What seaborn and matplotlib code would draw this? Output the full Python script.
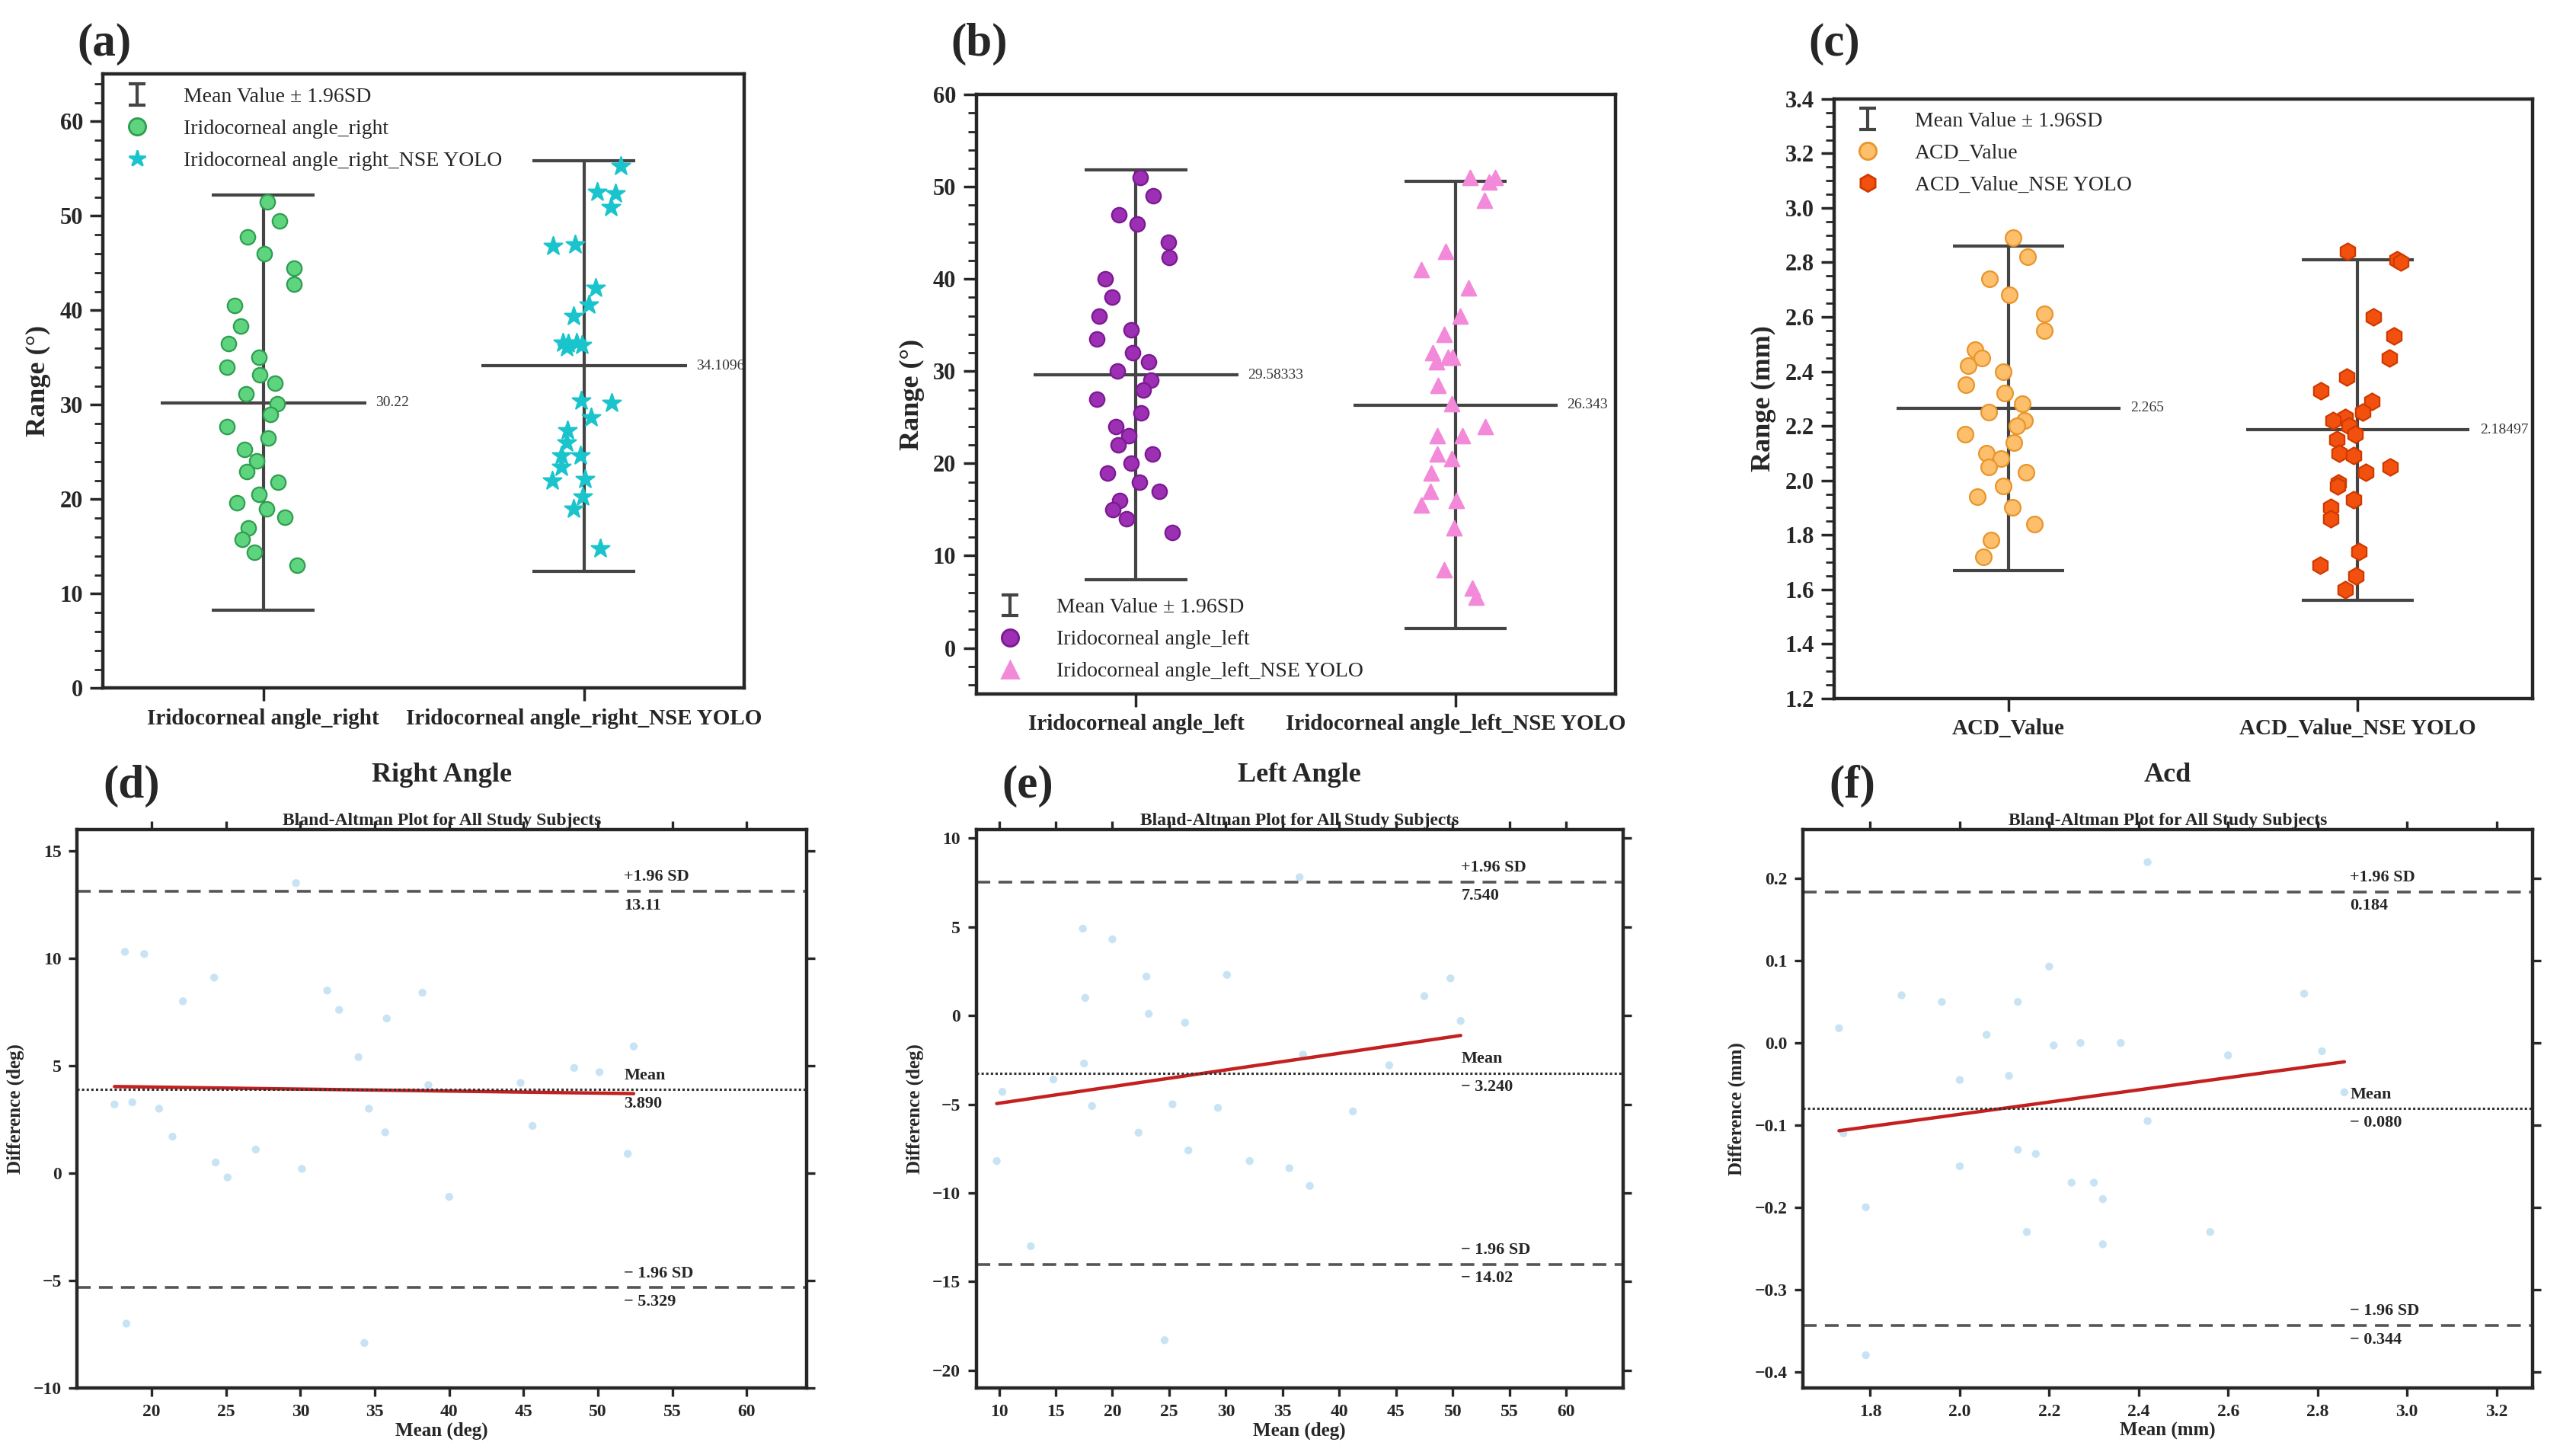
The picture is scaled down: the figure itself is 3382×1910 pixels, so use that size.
import numpy as np
import pandas as pd
import matplotlib
matplotlib.use("Agg")
import matplotlib.pyplot as plt
import seaborn as sns
from matplotlib.lines import Line2D

sns.set_theme(style="ticks")
plt.rcParams['font.family'] = ['Liberation Serif', 'DejaVu Serif']
plt.rcParams['axes.linewidth'] = 1.6

# ---------------- data ----------------
right_ref = [51.5, 49.5, 47.8, 46, 44.5, 42.8, 40.5, 38.3, 36.5, 35, 34, 33.2, 32.3, 31.2, 30.1,
             29, 27.7, 26.5, 25.3, 24.1, 22.9, 21.8, 20.5, 19.6, 19, 18.1, 17, 15.8, 14.4, 13]
right_yolo = [55.3, 52.5, 52.4, 50.9, 47, 46.8, 42.4, 40.6, 39.4, 36.6, 36.6, 36.3, 36.1, 36.5,
              30.4, 30.2, 28.7, 27.3, 26, 24.6, 24.6, 23.4, 22.1, 22, 20.3, 19.0, 14.8]
right_stats = {"mean": [30.22, 34.1096], "lo": [8.3, 12.4], "hi": [52.2, 55.8],
               "txt": ["30.22", "34.1096"]}

left_ref = [51, 49, 47, 46, 44, 42.3, 40, 38, 36, 34.5, 33.5, 32, 31, 30, 29, 28, 27, 25.5, 24,
            23, 22, 21, 20, 19, 18, 17, 16, 15, 14, 12.5]
left_yolo = [51, 51, 50.5, 48.5, 43, 41, 39, 36, 34, 32, 31.5, 31.5, 31, 28.5, 26.5, 24, 23, 23,
             21, 20.5, 19, 17, 16, 15.5, 13, 8.5, 6.5, 5.5]
left_stats = {"mean": [29.58333, 26.343], "lo": [7.4, 2.1], "hi": [51.8, 50.6],
              "txt": ["29.58333", "26.343"]}

acd_ref = [2.89, 2.82, 2.74, 2.68, 2.61, 2.55, 2.48, 2.45, 2.42, 2.40, 2.35, 2.32, 2.28, 2.25,
           2.22, 2.20, 2.17, 2.14, 2.10, 2.08, 2.05, 2.03, 1.98, 1.94, 1.90, 1.84, 1.78, 1.72]
acd_yolo = [2.84, 2.81, 2.80, 2.60, 2.53, 2.45, 2.38, 2.33, 2.29, 2.25, 2.23, 2.22, 2.20, 2.17,
            2.15, 2.10, 2.09, 2.05, 2.03, 1.99, 1.98, 1.93, 1.90, 1.86, 1.74, 1.69, 1.65, 1.60]
acd_stats = {"mean": [2.265, 2.18497], "lo": [1.67, 1.56], "hi": [2.86, 2.81],
             "txt": ["2.265", "2.18497"]}

ba_right_x = [17.5, 18.2, 18.3, 18.7, 19.5, 20.5, 21.4, 22.1, 24.2, 24.3, 25.1, 27, 29.7, 30.1, 31.8,
              32.6, 33.9, 34.3, 34.6, 35.7, 35.8, 38.2, 38.6, 40, 44.8, 45.6, 48.4, 50.1, 52, 52.4]
ba_right_y = [3.2, 10.3, -7, 3.3, 10.2, 3.0, 1.7, 8.0, 9.1, 0.5, -0.2, 1.1, 13.5, 0.2, 8.5,
              7.6, 5.4, -7.9, 3.0, 1.9, 7.2, 8.4, 4.1, -1.1, 4.2, 2.2, 4.9, 4.7, 0.9, 5.9]
ba_right_lines = [13.11, 3.890, -5.329]
ba_right_txt = ["13.11", "3.890", "\u2212 5.329"]

ba_left_x = [9.8, 10.3, 12.8, 14.8, 17.4, 17.5, 17.6, 18.2, 20, 22.3, 23, 23.2, 24.6, 25.3, 26.4,
             26.7, 29.3, 30.1, 32.1, 35.6, 36.5, 36.8, 37.4, 41.2, 44.4, 47.5, 49.8, 50.7]
ba_left_y = [-8.2, -4.3, -13, -3.6, 4.9, -2.7, 1.0, -5.1, 4.3, -6.6, 2.2, 0.1, -18.3, -5.0, -0.4,
             -7.6, -5.2, 2.3, -8.2, -8.6, 7.8, -2.2, -9.6, -5.4, -2.8, 1.1, 2.1, -0.3]
ba_left_lines = [7.540, -3.240, -14.02]
ba_left_txt = ["7.540", "\u2212 3.240", "\u2212 14.02"]

ba_acd_x = [1.73, 1.74, 1.79, 1.79, 1.87, 1.96, 2.0, 2.0, 2.06, 2.11, 2.13, 2.13, 2.15, 2.17, 2.2,
            2.21, 2.25, 2.27, 2.3, 2.32, 2.32, 2.36, 2.42, 2.42, 2.56, 2.6, 2.77, 2.81, 2.86]
ba_acd_y = [0.018, -0.11, -0.2, -0.38, 0.058, 0.05, -0.045, -0.15, 0.01, -0.04, -0.13, 0.05, -0.23,
            -0.135, 0.093, -0.003, -0.17, 0.0, -0.17, -0.19, -0.245, 0.0, 0.22, -0.095, -0.23,
            -0.015, 0.06, -0.01, -0.06]
ba_acd_lines = [0.184, -0.080, -0.344]
ba_acd_txt = ["0.184", "\u2212 0.080", "\u2212 0.344"]

# ---------------- figure ----------------
fig = plt.figure(figsize=(16.91, 9.55), dpi=200)
fig.patch.set_facecolor("white")

def top_panel(rect, ref, yolo, names, stats, colors, markers, sizes, ylim, yticks, ylabel,
              legend_loc, legend_labels, letter, jit):
    ax = fig.add_axes(rect)
    df = pd.DataFrame({"grp": [names[0]] * len(ref) + [names[1]] * len(yolo),
                       "val": ref + yolo})
    np.random.seed(3)
    for i, (nm, c, m, s) in enumerate(zip(names, colors, markers, sizes)):
        sub = df[df.grp == nm]
        sns.stripplot(data=sub, x="grp", y="val", order=names, ax=ax, color=c[0],
                      edgecolor=c[1], linewidth=0.8, marker=m, size=s, jitter=jit)
    for i in range(2):
        ax.vlines(i, stats["lo"][i], stats["hi"][i], color="#444444", lw=1.5, zorder=1)
        ax.hlines([stats["lo"][i], stats["hi"][i]], i - 0.16, i + 0.16, color="#444444", lw=1.5)
        ax.hlines(stats["mean"][i], i - 0.32, i + 0.32, color="#444444", lw=1.5)
        ax.text(i + 0.35, stats["mean"][i], stats["txt"][i], fontsize=7, va="center", color="#333")
    eb = ax.errorbar([np.nan], [np.nan], yerr=[1], fmt="none", ecolor="#444444",
                     capsize=4, elinewidth=1.5, capthick=1.5)
    ax.set_xlim(-0.5, 1.5)
    ax.set_ylim(*ylim)
    ax.set_yticks(yticks)
    ax.set_ylabel(ylabel, fontsize=13, fontweight="bold")
    ax.set_xlabel("")
    ax.tick_params(axis="x", labelsize=10.5)
    for t in ax.get_xticklabels():
        t.set_fontweight("bold")
    ax.tick_params(axis="y", labelsize=11)
    for t in ax.get_yticklabels():
        t.set_fontweight("bold")
    ax.minorticks_on()
    ax.tick_params(axis="x", which="minor", bottom=False)
    handles = [eb,
               Line2D([], [], color=colors[0][0], markeredgecolor=colors[0][1], marker=markers[0],
                      lw=0, markersize=8),
               Line2D([], [], color=colors[1][0], markeredgecolor=colors[1][1], marker=markers[1],
                      lw=0, markersize=8)]
    ax.legend(handles, legend_labels, loc=legend_loc, frameon=False, fontsize=10,
              handletextpad=1.2, labelspacing=0.6, borderaxespad=0.2)
    fig.text(rect[0] - 0.01, 0.955, letter, fontsize=22, fontweight="bold", va="bottom")
    return ax

top_panel([0.040, 0.527, 0.249, 0.422], right_ref, right_yolo,
          ["Iridocorneal angle_right", "Iridocorneal angle_right_NSE YOLO"], right_stats,
          [("#5fd47f", "#2e9e50"), ("#1ac4cc", "#1ac4cc")], ["o", "*"], [7, 9],
          (0, 65), range(0, 61, 10), "Range (°)", "upper left",
          ["Mean Value ± 1.96SD", "Iridocorneal angle_right", "Iridocorneal angle_right_NSE YOLO"],
          "(a)", 0.12)
top_panel([0.379, 0.523, 0.248, 0.412], left_ref, left_yolo,
          ["Iridocorneal angle_left", "Iridocorneal angle_left_NSE YOLO"], left_stats,
          [("#9c2fb3", "#7a1a90"), ("#f28ad9", "#f28ad9")], ["o", "^"], [7, 7],
          (-5, 60), range(0, 61, 10), "Range (°)", "lower left",
          ["Mean Value ± 1.96SD", "Iridocorneal angle_left", "Iridocorneal angle_left_NSE YOLO"],
          "(b)", 0.13)
top_panel([0.712, 0.520, 0.271, 0.412], acd_ref, acd_yolo,
          ["ACD_Value", "ACD_Value_NSE YOLO"], acd_stats,
          [("#fdbf6b", "#e8952c"), ("#f2500f", "#d03a00")], ["o", "h"], [7.5, 8],
          (1.2, 3.4), np.arange(1.2, 3.41, 0.2), "Range (mm)", "upper left",
          ["Mean Value ± 1.96SD", "ACD_Value", "ACD_Value_NSE YOLO"], "(c)", 0.13)

def ba_panel(rect, x, y, lines, txt, xlim, ylim, xticks, yticks, xlabel, ylabel, title, letter):
    ax = fig.add_axes(rect)
    sns.regplot(x=np.array(x), y=np.array(y), ax=ax, ci=None, truncate=True,
                scatter_kws=dict(color="#b9ddf2", s=14, edgecolor="none"),
                line_kws=dict(color="#c42020", lw=1.6))
    ax.axhline(lines[0], color="#555555", ls=(0, (5, 3)), lw=1.3)
    ax.axhline(lines[1], color="#333333", ls=(0, (1, 1)), lw=1.1)
    ax.axhline(lines[2], color="#555555", ls=(0, (5, 3)), lw=1.3)
    xt = xlim[0] + 0.75 * (xlim[1] - xlim[0])
    dy = 0.012 * (ylim[1] - ylim[0])
    labs = ["+1.96 SD", "Mean", "\u2212 1.96 SD"]
    for v, lab, t in zip(lines, labs, txt):
        ax.text(xt, v + dy, lab, fontsize=8, fontweight="bold", va="bottom")
        ax.text(xt, v - dy, t, fontsize=8, fontweight="bold", va="top")
    ax.set_xlim(*xlim)
    ax.set_ylim(*ylim)
    ax.set_xticks(xticks)
    ax.set_yticks(yticks)
    ax.tick_params(top=True, right=True, labelsize=8.5, width=1.2, length=4)
    for t in ax.get_xticklabels() + ax.get_yticklabels():
        t.set_fontweight("bold")
    ax.set_xlabel(xlabel, fontsize=9, fontweight="bold", labelpad=1)
    ax.set_ylabel(ylabel, fontsize=9, fontweight="bold")
    ax.set_title("Bland-Altman Plot for All Study Subjects", fontsize=8.5, fontweight="bold", pad=2)
    fig.text(rect[0] + rect[2] / 2, rect[1] + rect[3] + 0.033, title, fontsize=13,
             fontweight="bold", ha="center")
    fig.text(rect[0] + 0.01, rect[1] + rect[3] + 0.022, letter, fontsize=22, fontweight="bold")
    return ax

ba_panel([0.030, 0.046, 0.283, 0.384], ba_right_x, ba_right_y, ba_right_lines, ba_right_txt,
         (15, 64), (-10, 16), range(20, 61, 5), range(-10, 16, 5), "Mean (deg)",
         "Difference (deg)", "Right Angle", "(d)")
ba_panel([0.379, 0.046, 0.251, 0.384], ba_left_x, ba_left_y, ba_left_lines, ba_left_txt,
         (8, 65), (-21, 10.5), range(10, 61, 5), range(-20, 11, 5), "Mean (deg)",
         "Difference (deg)", "Left Angle", "(e)")
ba_panel([0.700, 0.046, 0.283, 0.384], ba_acd_x, ba_acd_y, ba_acd_lines, ba_acd_txt,
         (1.65, 3.28), (-0.42, 0.26), [1.8, 2, 2.2, 2.4, 2.6, 2.8, 3, 3.2],
         [-0.4, -0.3, -0.2, -0.1, 0, 0.1, 0.2], "Mean (mm)", "Difference (mm)", "Acd", "(f)")

fig.savefig("out.png", dpi=200, facecolor="white")
